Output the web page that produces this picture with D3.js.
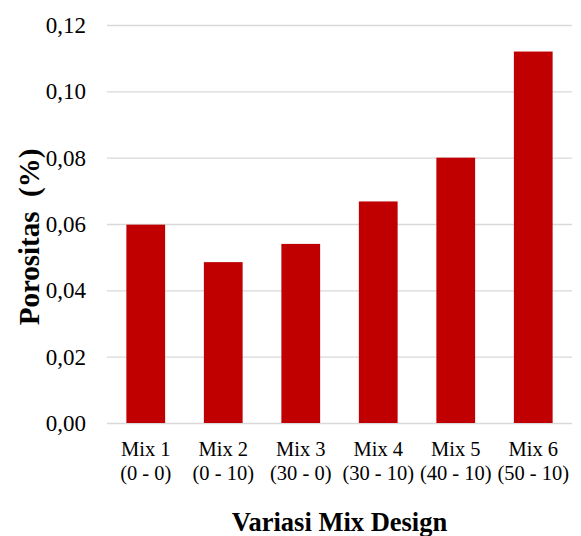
<!DOCTYPE html>
<html>
<head>
<meta charset="utf-8">
<script src="https://cdn.jsdelivr.net/npm/d3@7"></script>
<style>
  body { margin: 0; background: #fff; }
  text { font-family: "Liberation Serif", "Times New Roman", serif; fill: #000; }
</style>
</head>
<body>
<div id="chart"></div>
<script>
var categories = ["Mix 1", "Mix 2", "Mix 3", "Mix 4", "Mix 5", "Mix 6"];
var subLabels = ["(0 - 0)", "(0 - 10)", "(30 - 0)", "(30 - 10)", "(40 - 10)", "(50 - 10)"];
var porositas = [0.0598, 0.0485, 0.054, 0.0668, 0.080, 0.112];
var yTicks = [0, 0.02, 0.04, 0.06, 0.08, 0.10, 0.12];

var margin = { top: 25, right: 9, bottom: 113, left: 107 },
    width = 581 - margin.left - margin.right,
    height = 536 - margin.top - margin.bottom;

var svg = d3.select("#chart")
    .append("svg")
    .attr("width", 581)
    .attr("height", 536)
    .attr("font-family", "Liberation Serif")
    .append("g")
    .attr("transform", "translate(" + margin.left + "," + margin.top + ")");

var x = d3.scaleBand()
    .domain(categories)
    .range([0, width])
    .paddingInner(0.5)
    .paddingOuter(0.25);

var y = d3.scaleLinear()
    .domain([0, 0.12])
    .range([height, 0]);

// gridlines
svg.selectAll(".grid")
    .data(yTicks)
    .enter()
    .append("line")
    .attr("x1", 0)
    .attr("x2", width)
    .attr("y1", function (d) { return y(d) + 0.5; })
    .attr("y2", function (d) { return y(d) + 0.5; })
    .attr("stroke", "#d9d9d9")
    .attr("stroke-width", 1.3);

var yAxis = d3.axisLeft(y)
    .tickValues(yTicks)
    .tickSize(0)
    .tickPadding(21)
    .tickFormat(function (d) { return d3.format(".2f")(d).replace(".", ","); });

svg.append("g")
    .call(yAxis)
    .call(function (g) { g.select(".domain").remove(); })
    .attr("font-family", "Liberation Serif")
    .selectAll("text")
    .style("font-size", "23px");

svg.selectAll(".bar")
    .data(porositas)
    .enter()
    .append("rect")
    .attr("x", function (d, i) { return x(categories[i]); })
    .attr("y", function (d) { return y(d); })
    .attr("width", x.bandwidth())
    .attr("height", function (d) { return height - y(d); })
    .style("fill", "#c00000");

// category labels
var xl = svg.selectAll(".xlabel")
    .data(categories)
    .enter()
    .append("text")
    .attr("text-anchor", "middle")
    .style("font-size", "20.5px");

xl.append("tspan")
    .attr("x", function (d) { return x(d) + x.bandwidth() / 2; })
    .attr("y", height + 33)
    .text(function (d) { return d; });

xl.append("tspan")
    .attr("x", function (d) { return x(d) + x.bandwidth() / 2; })
    .attr("y", height + 57)
    .text(function (d, i) { return subLabels[i]; });

svg.append("text")
    .attr("x", width / 2)
    .attr("y", height + 108)
    .attr("text-anchor", "middle")
    .style("font-size", "26.5px")
    .style("font-weight", "bold")
    .text("Variasi Mix Design");

svg.append("text")
    .attr("transform", "rotate(-90)")
    .attr("x", -(height / 2) - 13)
    .attr("y", -68)
    .attr("text-anchor", "middle")
    .style("font-size", "29px")
    .style("font-weight", "bold")
    .style("white-space", "pre")
    .text("Porositas  (%)");
</script>
</body>
</html>
